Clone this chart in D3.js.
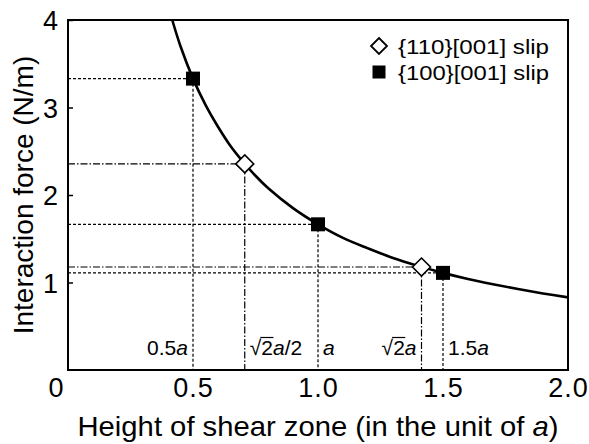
<!DOCTYPE html>
<html><head><meta charset="utf-8">
<script src="https://cdn.jsdelivr.net/npm/d3@7"></script>
<style>
body{margin:0;background:#fff;}
text{font-family:"Liberation Sans",Arial,sans-serif;fill:#000;}
</style></head>
<body><svg id="c" width="589" height="444"></svg>
<script>
// ---- data ----
const curveX = [0.417,0.45,0.5,0.55,0.6,0.65,0.7,0.75,0.8,0.9,1.0,1.1,1.2,1.3,1.4,1.5,1.6,1.7,1.8,1.9,2.0];
const curveY = [4.0,3.70,3.33,3.03,2.78,2.56,2.38,2.22,2.08,1.85,1.665,1.51,1.39,1.28,1.19,1.11,1.04,0.98,0.925,0.875,0.83];
const squareX = [0.5,1.0,1.5];
const squareY = [3.33,1.665,1.11];
const diamondX = [0.707,1.414];
const diamondY = [2.355,1.177];
const xTicks = [0,0.5,1.0,1.5,2.0];
const xTickLabels = ["0","0.5","1.0","1.5","2.0"];
const yTicks = [1,2,3,4];
const legendLabels = ["{110}[001] slip","{100}[001] slip"];
const annX = [0.5,0.707,1.0,1.414,1.5];
const annSqrt = [false,true,false,true,false];
const annNum = ["0.5","2","","2","1.5"];
const annSuffix = ["","/2","","",""];
const annSide = ["left","right","right","left","right"];

const svg = d3.select("#c");
const L=68,R=568,T=20,B=370;
const x = d3.scaleLinear().domain([0,2]).range([L,R]);
const y = d3.scaleLinear().domain([0,4]).range([B,T]);

function refLines(xs, ys, dash){
  xs.forEach((v,i)=>{
    svg.append("line").attr("x1",x(0)).attr("x2",x(v)).attr("y1",y(ys[i])).attr("y2",y(ys[i]))
      .attr("stroke","#000").attr("stroke-width",1.2).attr("stroke-dasharray",dash);
    svg.append("line").attr("x1",x(v)).attr("x2",x(v)).attr("y1",y(ys[i])).attr("y2",y(0))
      .attr("stroke","#000").attr("stroke-width",1.2).attr("stroke-dasharray",dash);
  });
}
refLines(squareX, squareY, "3,2");
refLines(diamondX, diamondY, "7,2,1.5,2");

const pts = curveX.map((v,i)=>[v,curveY[i]]);
svg.append("path").datum(pts)
  .attr("d", d3.line().x(d=>x(d[0])).y(d=>y(d[1])).curve(d3.curveCatmullRom))
  .attr("fill","none").attr("stroke","#000").attr("stroke-width",2.6);

svg.append("rect").attr("x",L).attr("y",T).attr("width",R-L).attr("height",B-T)
  .attr("fill","none").attr("stroke","#000").attr("stroke-width",2);

const yAxis = d3.axisLeft(y).tickValues(yTicks).tickSize(-5).tickPadding(10).tickFormat(d3.format("d"));
const gy = svg.append("g").attr("transform",`translate(${L},0)`).call(yAxis);
gy.select(".domain").remove();
gy.selectAll("line").attr("stroke-width",1.5);
gy.selectAll("text").attr("font-size",27).attr("font-family","Liberation Sans, Arial").attr("dy","0.36em");

const xAxis = d3.axisBottom(x).tickValues(xTicks).tickSize(0).tickPadding(8).tickFormat((d,i)=>xTickLabels[i]);
const gx = svg.append("g").attr("transform",`translate(0,${B})`).call(xAxis);
gx.select(".domain").remove();
gx.selectAll("text").attr("font-size",27).attr("font-family","Liberation Sans, Arial")
  .attr("letter-spacing",1)
  .attr("dx",(d)=> d===0 ? -12 : 0);

const sq = 14;
svg.selectAll(".sq").data(squareX).enter().append("rect")
  .attr("x",(d)=>x(d)-sq/2).attr("y",(d,i)=>y(squareY[i])-sq/2)
  .attr("width",sq).attr("height",sq).attr("fill","#000");
const dm = 9;
svg.selectAll(".dm").data(diamondX).enter().append("path")
  .attr("d",(d,i)=>{const cx=x(d),cy=y(diamondY[i]);return `M${cx},${cy-dm}L${cx+dm},${cy}L${cx},${cy+dm}L${cx-dm},${cy}Z`;})
  .attr("fill","#fff").attr("stroke","#000").attr("stroke-width",1.6);

annX.forEach((v,i)=>{
  const t = svg.append("text").attr("font-size",21).attr("y",355);
  if(annSqrt[i]) t.append("tspan").text("\u221A");
  if(annNum[i]) t.append("tspan").text(annNum[i]);
  t.append("tspan").attr("font-style","italic").text("a");
  if(annSuffix[i]) t.append("tspan").text(annSuffix[i]);
  if(annSide[i]==="left"){ t.attr("x",x(v)-5).attr("text-anchor","end"); }
  else { t.attr("x",x(v)+5).attr("text-anchor","start"); }
  if(annSqrt[i]){
    const node = t.node();
    const e0 = node.getExtentOfChar(0), e1 = node.getExtentOfChar(1);
    const yTop = e0.y + 1.5;
    svg.append("line").attr("x1",e0.x+e0.width-1).attr("x2",e1.x+e1.width+0.5)
      .attr("y1",yTop).attr("y2",yTop).attr("stroke","#000").attr("stroke-width",1.2);
  }
});

const lgX = 379, lgY = [46,72];
svg.append("path").attr("d",`M${lgX},${lgY[0]-8}L${lgX+8},${lgY[0]}L${lgX},${lgY[0]+8}L${lgX-8},${lgY[0]}Z`)
  .attr("fill","#fff").attr("stroke","#000").attr("stroke-width",1.8);
svg.append("rect").attr("x",lgX-6.5).attr("y",lgY[1]-6.5).attr("width",13).attr("height",13).attr("fill","#000");
legendLabels.forEach((s,i)=>{
  svg.append("text").attr("x",398).attr("y",lgY[i]).attr("dy","0.36em").attr("font-size",21)
    .attr("textLength",151).attr("lengthAdjust","spacingAndGlyphs").text(s);
});

const xt = svg.append("text").attr("x",(L+R)/2).attr("y",436).attr("text-anchor","middle").attr("font-size",28)
  .attr("textLength",481).attr("lengthAdjust","spacingAndGlyphs");
xt.append("tspan").text("Height of shear zone (in the unit of ");
xt.append("tspan").attr("font-style","italic").text("a");
xt.append("tspan").text(")");
svg.append("text").attr("transform","translate(33,195) rotate(-90)").attr("text-anchor","middle")
  .attr("font-size",28).text("Interaction force (N/m)");
</script></body></html>
